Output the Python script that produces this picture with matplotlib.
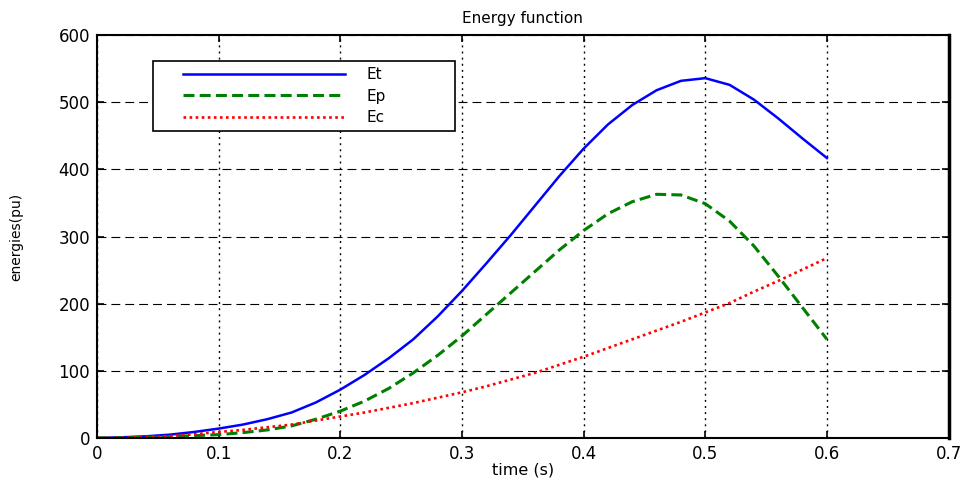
import numpy as np
import matplotlib.pyplot as plt
from matplotlib.legend_handler import HandlerLine2D

# tiempo (s)
t = [0.00, 0.02, 0.04, 0.06, 0.08, 0.10, 0.12, 0.14, 0.16, 0.18,
     0.20, 0.22, 0.24, 0.26, 0.28, 0.30, 0.32, 0.34, 0.36, 0.38,
     0.40, 0.42, 0.44, 0.46, 0.48, 0.50, 0.52, 0.54, 0.56, 0.58, 0.60]

# energia total
Et = [0, 1, 2.5, 5, 9, 14, 20, 28, 38, 53,
      72, 94, 119, 147, 181, 219, 260, 302, 346, 390,
      431, 467, 496, 518, 532, 536, 526, 504, 476, 446, 417]

# energia potencial
Ep = [0, 0.3, 1, 2, 3.5, 5, 8, 12, 18, 28,
      40, 55, 74, 97, 123, 152, 184, 216, 248, 280,
      309, 334, 352, 363, 362, 349, 323, 286, 241, 194, 147]

# energia cinetica
Ec = [0, 0.5, 1.5, 3, 5.5, 9, 12, 16, 20, 26,
      32, 38, 45, 52, 60, 68, 77, 87, 97, 109,
      121, 134, 147, 160, 173, 187, 201, 218, 234, 251, 268]

xticks = [0, 0.1, 0.2, 0.3, 0.4, 0.5, 0.6, 0.7]
xticklabels = ['0', '0.1', '0.2', '0.3', '0.4', '0.5', '0.6', '0.7']
yticks = [0, 100, 200, 300, 400, 500, 600]

plt.rcParams['font.family'] = ['DejaVu Sans']

fig = plt.figure(figsize=(9.65, 4.82), dpi=100)
ax = fig.add_axes([0.1005, 0.0913, 0.8825, 0.8357])

ax.plot(t, Et, color='#0000ff', lw=1.8, label='Et')
ax.plot(t, Ep, color='#008000', lw=2.2, ls=(0, (3.6, 1.7)), label='Ep')
ax.plot(t, Ec, color='#ff0000', lw=1.9, ls=(0, (1, 1.3)), label='Ec')

ax.set_xlim(0, 0.7)
ax.set_ylim(0, 600)
ax.set_xticks(xticks)
ax.set_xticklabels(xticklabels)
ax.set_yticks(yticks)
ax.tick_params(direction='in', top=True, right=True, labelsize=12, length=5,
               width=1.2, pad=5)

# rejilla: verticales punteadas, horizontales a trazos
ax.xaxis.grid(True, color='black', ls=(0, (1.4, 3)), lw=1)
ax.yaxis.grid(True, color='black', ls=(0, (8, 4.5)), lw=0.8)
for s in ax.spines.values():
    s.set_linewidth(1.5)
ax.spines['right'].set_linewidth(2.5)

ax.set_title('Energy function', fontsize=11, pad=9)
ax.set_xlabel('time (s)', fontsize=11.5, labelpad=0)
ax.set_ylabel('energies(pu)', fontsize=10)
ax.yaxis.set_label_coords(-0.087, 0.5)

hm = {l: HandlerLine2D(xpad=1.57) for l in ax.get_lines()}
leg = ax.legend(loc='upper left', bbox_to_anchor=(0.0657, 0.8355, 0.3545, 0.1),
                mode='expand', fontsize=11, handlelength=12.2, handletextpad=1.37,
                labelspacing=0.42, borderpad=0.4, handler_map=hm,
                fancybox=False, framealpha=1, edgecolor='black', borderaxespad=0)
leg.get_frame().set_linewidth(1.2)

plt.savefig('out.png', dpi=100)
